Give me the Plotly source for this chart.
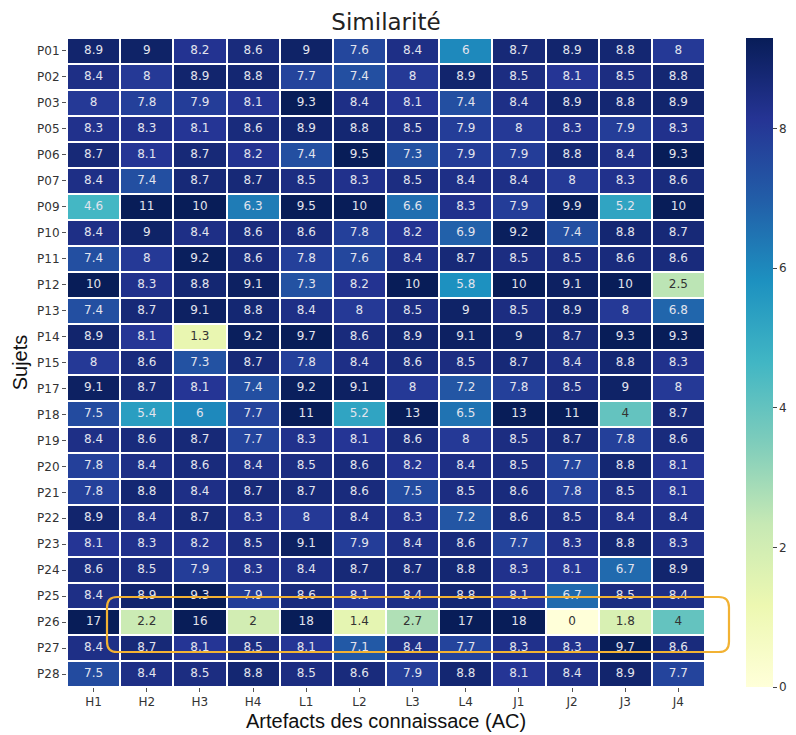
import plotly.graph_objects as go

columns = ["H1", "H2", "H3", "H4", "L1", "L2", "L3", "L4", "J1", "J2", "J3", "J4"]
subjects = ["P01", "P02", "P03", "P05", "P06", "P07", "P09", "P10", "P11", "P12", "P13",
            "P14", "P15", "P17", "P18", "P19", "P20", "P21", "P22", "P23", "P24", "P25",
            "P26", "P27", "P28"]

P01 = [8.9, 9, 8.2, 8.6, 9, 7.6, 8.4, 6, 8.7, 8.9, 8.8, 8]
P02 = [8.4, 8, 8.9, 8.8, 7.7, 7.4, 8, 8.9, 8.5, 8.1, 8.5, 8.8]
P03 = [8, 7.8, 7.9, 8.1, 9.3, 8.4, 8.1, 7.4, 8.4, 8.9, 8.8, 8.9]
P05 = [8.3, 8.3, 8.1, 8.6, 8.9, 8.8, 8.5, 7.9, 8, 8.3, 7.9, 8.3]
P06 = [8.7, 8.1, 8.7, 8.2, 7.4, 9.5, 7.3, 7.9, 7.9, 8.8, 8.4, 9.3]
P07 = [8.4, 7.4, 8.7, 8.7, 8.5, 8.3, 8.5, 8.4, 8.4, 8, 8.3, 8.6]
P09 = [4.6, 11, 10, 6.3, 9.5, 10, 6.6, 8.3, 7.9, 9.9, 5.2, 10]
P10 = [8.4, 9, 8.4, 8.6, 8.6, 7.8, 8.2, 6.9, 9.2, 7.4, 8.8, 8.7]
P11 = [7.4, 8, 9.2, 8.6, 7.8, 7.6, 8.4, 8.7, 8.5, 8.5, 8.6, 8.6]
P12 = [10, 8.3, 8.8, 9.1, 7.3, 8.2, 10, 5.8, 10, 9.1, 10, 2.5]
P13 = [7.4, 8.7, 9.1, 8.8, 8.4, 8, 8.5, 9, 8.5, 8.9, 8, 6.8]
P14 = [8.9, 8.1, 1.3, 9.2, 9.7, 8.6, 8.9, 9.1, 9, 8.7, 9.3, 9.3]
P15 = [8, 8.6, 7.3, 8.7, 7.8, 8.4, 8.6, 8.5, 8.7, 8.4, 8.8, 8.3]
P17 = [9.1, 8.7, 8.1, 7.4, 9.2, 9.1, 8, 7.2, 7.8, 8.5, 9, 8]
P18 = [7.5, 5.4, 6, 7.7, 11, 5.2, 13, 6.5, 13, 11, 4, 8.7]
P19 = [8.4, 8.6, 8.7, 7.7, 8.3, 8.1, 8.6, 8, 8.5, 8.7, 7.8, 8.6]
P20 = [7.8, 8.4, 8.6, 8.4, 8.5, 8.6, 8.2, 8.4, 8.5, 7.7, 8.8, 8.1]
P21 = [7.8, 8.8, 8.4, 8.7, 8.7, 8.6, 7.5, 8.5, 8.6, 7.8, 8.5, 8.1]
P22 = [8.9, 8.4, 8.7, 8.3, 8, 8.4, 8.3, 7.2, 8.6, 8.5, 8.4, 8.4]
P23 = [8.1, 8.3, 8.2, 8.5, 9.1, 7.9, 8.4, 8.6, 7.7, 8.3, 8.8, 8.3]
P24 = [8.6, 8.5, 7.9, 8.3, 8.4, 8.7, 8.7, 8.8, 8.3, 8.1, 6.7, 8.9]
P25 = [8.4, 8.9, 9.3, 7.9, 8.6, 8.1, 8.4, 8.8, 8.1, 6.7, 8.5, 8.4]
P26 = [17, 2.2, 16, 2, 18, 1.4, 2.7, 17, 18, 0, 1.8, 4]
P27 = [8.4, 8.7, 8.1, 8.5, 8.1, 7.1, 8.4, 7.7, 8.3, 8.3, 9.7, 8.6]
P28 = [7.5, 8.4, 8.5, 8.8, 8.5, 8.6, 7.9, 8.8, 8.1, 8.4, 8.9, 7.7]

values = [P01, P02, P03, P05, P06, P07, P09, P10, P11, P12, P13, P14, P15, P17, P18,
          P19, P20, P21, P22, P23, P24, P25, P26, P27, P28]

colorbar_ticks = [0, 2, 4, 6, 8]

ylgnbu = [
    [0.0, "#ffffd9"], [0.125, "#edf8b1"], [0.25, "#c7e9b4"], [0.375, "#7fcdbb"],
    [0.5, "#41b6c4"], [0.625, "#1d91c0"], [0.75, "#225ea8"], [0.875, "#253494"],
    [1.0, "#081d58"],
]

fig = go.Figure(
    go.Heatmap(
        z=values,
        x=columns,
        y=subjects,
        colorscale=ylgnbu,
        zmin=0,
        zmax=9.3,
        xgap=2,
        ygap=2,
        colorbar=dict(
            x=1.064, xanchor="left", xref="paper", xpad=0, ypad=0,
            y=0.5, yanchor="middle", len=1.0, lenmode="fraction",
            thickness=27, outlinewidth=0,
            tickvals=colorbar_ticks, ticks="outside", ticklen=4,
            tickcolor="#444", tickfont=dict(family="DejaVu Sans", size=12, color="#333"),
        ),
    )
)

# cell labels (light text on dark cells, dark text on light cells)
tx, ty, tt, tc = [], [], [], []
for subj, row in zip(subjects, values):
    for col, v in zip(columns, row):
        tx.append(col)
        ty.append(subj)
        tt.append(f"{v:g}")
        tc.append("#333333" if v < 4.3 else "#e2e4ee")
fig.add_trace(go.Scatter(
    x=tx, y=ty, text=tt, mode="text",
    textfont=dict(family="DejaVu Sans", size=12, color=tc),
    hoverinfo="skip", showlegend=False,
))

# rounded highlight box around row P26
r_x, r_y = 0.016, 0.016
x0, x1, y0, y1 = 0.0627, 1.0376, 0.0539, 0.1387
path = (
    f"M {x0 + r_x},{y1} L {x1 - r_x},{y1} Q {x1},{y1} {x1},{y1 - r_y} "
    f"L {x1},{y0 + r_y} Q {x1},{y0} {x1 - r_x},{y0} "
    f"L {x0 + r_x},{y0} Q {x0},{y0} {x0},{y0 + r_y} "
    f"L {x0},{y1 - r_y} Q {x0},{y1} {x0 + r_x},{y1} Z"
)
fig.add_shape(type="path", path=path, xref="paper", yref="paper",
              line=dict(color="#f2b233", width=2.2), layer="above")

fig.add_annotation(text="Artefacts des connaissace (AC)", xref="paper", yref="paper",
                   x=0.5, y=-0.053, xanchor="center", yanchor="middle", showarrow=False,
                   font=dict(family="Liberation Sans, Arial", size=20, color="#111"))
fig.add_annotation(text="Sujets", xref="paper", yref="paper",
                   x=-0.074, y=0.5, xanchor="center", yanchor="middle", showarrow=False,
                   textangle=-90,
                   font=dict(family="Liberation Sans, Arial", size=20, color="#111"))

fig.update_layout(
    width=788,
    height=727,
    margin=dict(l=59, r=91, t=30, b=48, autoexpand=False),
    paper_bgcolor="white",
    plot_bgcolor="white",
    showlegend=False,
    title=dict(text="Similarité", x=378 / 788, xanchor="center",
               y=0.981, yanchor="middle",
               font=dict(family="DejaVu Sans", size=23, color="#222")),
    xaxis=dict(
        range=[-0.5, len(columns) - 0.5],
        ticks="outside", ticklen=4, tickcolor="#555",
        tickfont=dict(family="DejaVu Sans", size=12, color="#333"),
        showgrid=False, zeroline=False, automargin=False,
    ),
    yaxis=dict(
        range=[len(subjects) - 0.5, -0.5],
        ticks="outside", ticklen=4, tickcolor="#555",
        tickfont=dict(family="DejaVu Sans", size=12, color="#333"),
        showgrid=False, zeroline=False, automargin=False,
    ),
)

fig.write_html("out.html")
